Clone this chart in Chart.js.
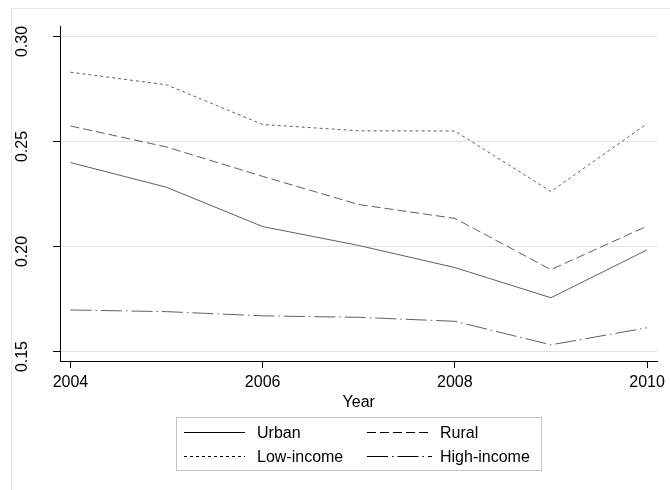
<!DOCTYPE html>
<html>
<head>
<meta charset="utf-8">
<script src="https://cdn.jsdelivr.net/npm/chart.js@4/dist/chart.umd.min.js"></script>
<style>
  html, body { margin: 0; padding: 0; background: #fff; }
  #wrap { width: 670px; height: 490px; }
</style>
</head>
<body>
<div id="wrap"><canvas id="c" width="670" height="490"></canvas></div>
<script>
// ---- data ----
const years = [2004, 2005, 2006, 2007, 2008, 2009, 2010];
const urban = [0.2400, 0.2282, 0.2095, 0.2005, 0.1900, 0.1756, 0.1984];
const rural = [0.2574, 0.2474, 0.2334, 0.2200, 0.2134, 0.1890, 0.2097];
const lowIncome = [0.2830, 0.2770, 0.2581, 0.2551, 0.2550, 0.2262, 0.2585];
const highIncome = [0.1698, 0.1690, 0.1670, 0.1663, 0.1644, 0.1532, 0.1613];
const seriesNames = ['Urban', 'Rural', 'Low-income', 'High-income'];
const xTickValues = [2004, 2006, 2008, 2010];
const yTickValues = [0.15, 0.20, 0.25, 0.30];
const xTitle = 'Year';

const FONT = "'Liberation Sans', Arial, Helvetica, sans-serif";
const lineColor = '#606060';

function pts(vals) { return years.map((y, i) => ({ x: y, y: vals[i] })); }

const dashes = {
  'Urban': [],
  'Rural': [9, 4],
  'Low-income': [3, 3],
  'High-income': [21, 4, 1.5, 4]
};
const seriesVals = [urban, rural, lowIncome, highIncome];

const datasets = seriesNames.map((n, i) => ({
  label: n,
  data: pts(seriesVals[i]),
  borderColor: lineColor,
  borderWidth: 1,
  borderDash: dashes[n],
  pointRadius: 0,
  tension: 0,
  fill: false
}));

const decorPlugin = {
  id: 'decor',
  beforeDraw(chart) {
    const ctx = chart.ctx;
    ctx.save();
    ctx.fillStyle = '#fff';
    ctx.fillRect(0, 0, chart.width, chart.height);
    // outer graph-region frame
    ctx.strokeStyle = '#e6e6e6';
    ctx.lineWidth = 1;
    ctx.beginPath();
    ctx.moveTo(11.5, chart.height);
    ctx.lineTo(11.5, 8.5);
    ctx.lineTo(chart.width, 8.5);
    ctx.stroke();
    ctx.restore();
  },
  afterDraw(chart) {
    const ctx = chart.ctx;
    const ys = chart.scales.y;
    const area = chart.chartArea;
    ctx.save();
    ctx.fillStyle = '#000';
    ctx.font = '16px ' + FONT;
    // rotated y tick labels
    ys.ticks.forEach(t => {
      const py = ys.getPixelForValue(t.value);
      ctx.save();
      ctx.translate(26.5, py + 5);
      ctx.rotate(-Math.PI / 2);
      ctx.textAlign = 'center';
      ctx.textBaseline = 'alphabetic';
      ctx.fillText(t.value.toFixed(2), 0, 0);
      ctx.restore();
    });
    // x axis title
    ctx.textAlign = 'center';
    ctx.textBaseline = 'alphabetic';
    ctx.fillText(xTitle, (area.left + area.right) / 2, 406.5);
    // legend
    ctx.strokeStyle = '#c4c4c4';
    ctx.lineWidth = 1;
    ctx.strokeRect(176.5, 417.5, 365, 53);
    const cols = [{ x0: 184, x1: 245, tx: 257 }, { x0: 367, x1: 432, tx: 440 }];
    const rows = [432.5, 456.5];
    chart.data.datasets.forEach((ds, i) => {
      const c = cols[i % 2], r = rows[Math.floor(i / 2)];
      ctx.save();
      ctx.strokeStyle = '#000';
      ctx.lineWidth = 1;
      ctx.setLineDash(ds.borderDash || []);
      ctx.beginPath();
      ctx.moveTo(c.x0, r);
      ctx.lineTo(c.x1, r);
      ctx.stroke();
      ctx.restore();
      ctx.textAlign = 'left';
      ctx.textBaseline = 'middle';
      ctx.fillStyle = '#000';
      ctx.fillText(ds.label, c.tx, r + 1);
    });
    ctx.restore();
  }
};

new Chart(document.getElementById('c'), {
  type: 'line',
  data: { datasets },
  plugins: [decorPlugin],
  options: {
    responsive: false,
    animation: false,
    devicePixelRatio: 1,
    layout: { padding: { top: 26, right: 10, left: 0, bottom: 0 } },
    plugins: { legend: { display: false }, tooltip: { enabled: false } },
    scales: {
      x: {
        type: 'linear',
        min: 2003.891,
        max: 2010.109,
        afterBuildTicks: s => { s.ticks = xTickValues.map(v => ({ value: v })); },
        afterFit: s => { s.height = 129; },
        grid: { drawOnChartArea: false, drawTicks: true, tickLength: 7, tickColor: '#000', tickWidth: 1 },
        border: { display: true, color: '#000', width: 1 },
        ticks: {
          color: '#000',
          font: { family: FONT, size: 16 },
          padding: 5,
          maxRotation: 0,
          minRotation: 0,
          autoSkip: false,
          callback: v => String(v)
        }
      },
      y: {
        type: 'linear',
        min: 0.1455,
        max: 0.305,
        afterBuildTicks: s => { s.ticks = yTickValues.map(v => ({ value: v })); },
        afterFit: s => { s.width = 60; },
        grid: { color: '#e2e2e2', lineWidth: 1, drawTicks: true, tickLength: 7, tickColor: '#000', tickWidth: 1 },
        border: { display: true, color: '#000', width: 1 },
        ticks: { display: false }
      }
    }
  }
});
</script>
</body>
</html>
